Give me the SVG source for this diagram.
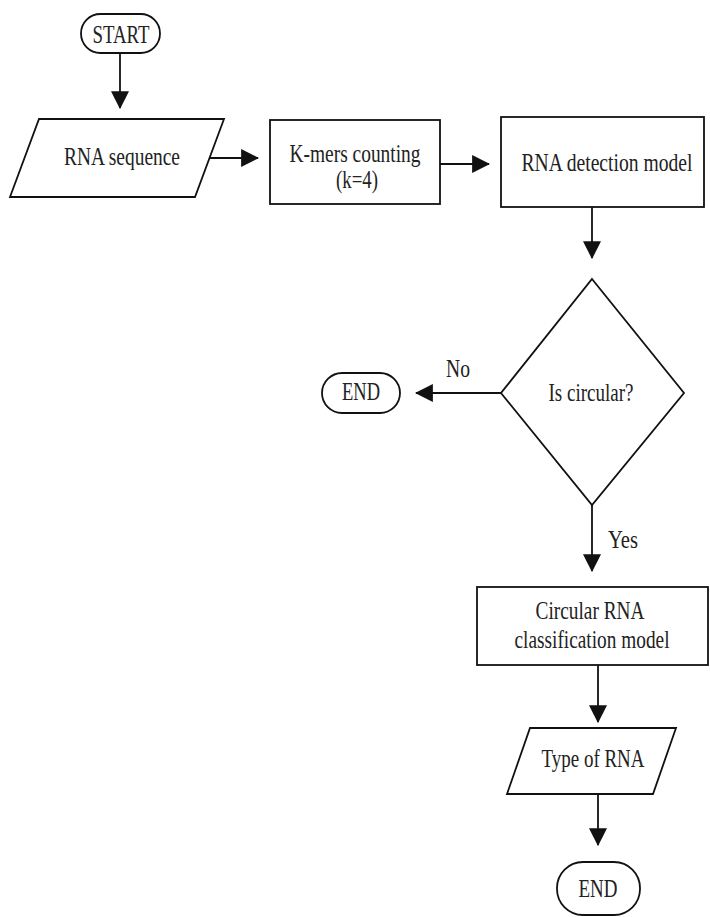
<svg xmlns="http://www.w3.org/2000/svg" width="710" height="917" viewBox="0 0 710 917">
<defs>
<style>
.s{fill:#fff;stroke:#111;stroke-width:1.8}
.c{fill:none;stroke:#111;stroke-width:1.8}
.t{font-family:"Liberation Serif","Times New Roman",serif;font-size:25px;fill:#222;text-anchor:middle}
</style>
<marker id="ah" markerUnits="userSpaceOnUse" markerWidth="18" markerHeight="18" viewBox="0 0 16 16" refX="15" refY="8" orient="auto">
<path d="M0,0 L16,8 L0,16 Z" fill="#111"/>
</marker>
</defs>
<rect width="710" height="917" fill="#fff"/>
<g id="connectors">
<line class="c" x1="120" y1="53" x2="120" y2="108" marker-end="url(#ah)"/>
<line class="c" x1="209" y1="158" x2="258" y2="158" marker-end="url(#ah)"/>
<line class="c" x1="440" y1="164" x2="489" y2="164" marker-end="url(#ah)"/>
<line class="c" x1="592" y1="207" x2="592" y2="258" marker-end="url(#ah)"/>
<line class="c" x1="501" y1="393" x2="416" y2="393" marker-end="url(#ah)"/>
<line class="c" x1="592" y1="505" x2="592" y2="571" marker-end="url(#ah)"/>
<line class="c" x1="598" y1="665" x2="598" y2="722" marker-end="url(#ah)"/>
<line class="c" x1="598" y1="794" x2="598" y2="845" marker-end="url(#ah)"/>
<text class="t" x="458" y="377" textLength="24" lengthAdjust="spacingAndGlyphs">No</text>
<text class="t" x="623" y="548" textLength="30" lengthAdjust="spacingAndGlyphs">Yes</text>
</g>
<g id="start">
<rect class="s" x="81" y="14" width="79" height="39" rx="19.5"/>
<text class="t" x="121" y="43" textLength="57" lengthAdjust="spacingAndGlyphs">START</text>
</g>
<g id="rna-sequence">
<polygon class="s" points="39,119 224,119 195,197 10,197"/>
<text class="t" x="122" y="165" textLength="116" lengthAdjust="spacingAndGlyphs">RNA sequence</text>
</g>
<g id="kmers">
<rect class="s" x="270" y="120" width="170" height="84"/>
<text class="t" x="355" y="162" textLength="131" lengthAdjust="spacingAndGlyphs">K-mers counting</text>
<text class="t" x="357" y="188" textLength="42" lengthAdjust="spacingAndGlyphs">(k=4)</text>
</g>
<g id="detection">
<rect class="s" x="501" y="117" width="203" height="90"/>
<text class="t" x="607" y="171" textLength="171" lengthAdjust="spacingAndGlyphs">RNA detection model</text>
</g>
<g id="decision">
<polygon class="s" points="592,279 684,393 592,505 501,393"/>
<text class="t" x="591" y="401" textLength="85" lengthAdjust="spacingAndGlyphs">Is circular?</text>
</g>
<g id="end-left">
<rect class="s" x="322" y="373" width="78" height="40" rx="20"/>
<text class="t" x="361" y="400" textLength="38" lengthAdjust="spacingAndGlyphs">END</text>
</g>
<g id="classification">
<rect class="s" x="477" y="587" width="231" height="78"/>
<text class="t" x="590" y="619" textLength="109" lengthAdjust="spacingAndGlyphs">Circular RNA</text>
<text class="t" x="592" y="648" textLength="155" lengthAdjust="spacingAndGlyphs">classification model</text>
</g>
<g id="type-of-rna">
<polygon class="s" points="530,728 676,728 653,794 507,794"/>
<text class="t" x="593" y="767" textLength="103" lengthAdjust="spacingAndGlyphs">Type of RNA</text>
</g>
<g id="end-bottom">
<rect class="s" x="557" y="862" width="83" height="53" rx="26"/>
<text class="t" x="598" y="897" textLength="39" lengthAdjust="spacingAndGlyphs">END</text>
</g>
</svg>
